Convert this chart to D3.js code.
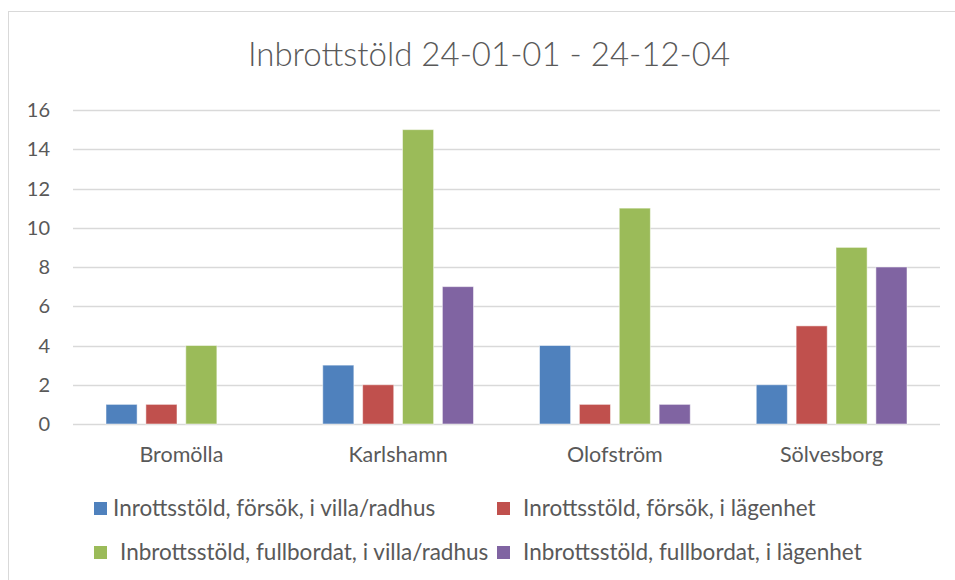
<!DOCTYPE html>
<html>
<head>
<meta charset="utf-8">
<script src="https://cdn.jsdelivr.net/npm/d3@7"></script>
<style>
  body { margin: 0; background: #fff; }
  text { fill: #595959; font-family: Lato, "Liberation Sans", sans-serif; }
</style>
</head>
<body>
<svg id="chart" width="955" height="580"></svg>
<script>
// data
const kommuner = ['Bromölla', 'Karlshamn', 'Olofström', 'Sölvesborg'];
const serieNamn = [
  'Inrottsstöld, försök, i villa/radhus',
  'Inrottsstöld, försök, i lägenhet',
  'Inbrottsstöld, fullbordat, i villa/radhus',
  'Inbrottsstöld, fullbordat, i lägenhet'
];
const forsokVilla = [1, 3, 4, 2];
const forsokLgh = [1, 2, 1, 5];
const fullbVilla = [4, 15, 11, 9];
const fullbLgh = [0, 7, 1, 8];
const yTicks = [0, 2, 4, 6, 8, 10, 12, 14, 16];
const farger = ['#4F81BD', '#C0504D', '#9BBB59', '#8064A2'];

const serier = [forsokVilla, forsokLgh, fullbVilla, fullbLgh];

const svg = d3.select('#chart');

// chart frame
svg.append('rect')
  .attr('x', 8.5).attr('y', 11.5)
  .attr('width', 960).attr('height', 600)
  .attr('fill', 'none')
  .attr('stroke', '#d9d9d9');

// title
svg.append('text')
  .attr('x', 489).attr('y', 66)
  .attr('text-anchor', 'middle')
  .style('font-size', '33px')
  .style('font-weight', 300)
  .text('Inbrottstöld 24-01-01 - 24-12-04');

const x0 = d3.scaleBand().domain(kommuner).range([73, 940]);
const x1 = d3.scaleBand().domain(d3.range(4))
  .range([33, x0.bandwidth() - 33]).paddingInner(0.22);
const y = d3.scaleLinear().domain([0, 16]).range([424, 110]);

// grid
svg.append('g')
  .selectAll('line')
  .data(yTicks)
  .join('line')
  .attr('x1', 73).attr('x2', 940)
  .attr('y1', d => Math.round(y(d)) + 0.5)
  .attr('y2', d => Math.round(y(d)) + 0.5)
  .attr('stroke', '#d9d9d9')
  .attr('stroke-width', 1.5);

// y labels
svg.append('g')
  .selectAll('text')
  .data(yTicks)
  .join('text')
  .attr('x', 50)
  .attr('y', d => y(d) + 7)
  .attr('text-anchor', 'end')
  .style('font-size', '20px')
  .text(d => d);

// bars
const grupper = svg.append('g')
  .selectAll('g')
  .data(kommuner)
  .join('g')
  .attr('transform', d => `translate(${x0(d)},0)`);

grupper.selectAll('rect')
  .data((d, i) => serier.map((s, j) => ({ j, v: s[i] })))
  .join('rect')
  .attr('x', d => x1(d.j))
  .attr('width', x1.bandwidth())
  .attr('y', d => y(d.v))
  .attr('height', d => y(0) - y(d.v))
  .attr('fill', d => farger[d.j])
  .attr('stroke', d => d.v > 0 ? '#fff' : 'none')
  .attr('stroke-opacity', 0.5)
  .attr('stroke-width', 1);

// category labels
svg.append('g')
  .selectAll('text')
  .data(kommuner)
  .join('text')
  .attr('x', d => x0(d) + x0.bandwidth() / 2)
  .attr('y', 462)
  .attr('text-anchor', 'middle')
  .style('font-size', '21.5px')
  .text(d => d);

// legend
const legPos = [
  { sx: 94, tx: 113, y: 502 },
  { sx: 497, tx: 523, y: 502 },
  { sx: 94, tx: 120, y: 546 },
  { sx: 497, tx: 523, y: 546 }
];
const leg = svg.append('g')
  .selectAll('g')
  .data(serieNamn)
  .join('g');

leg.append('rect')
  .attr('x', (d, i) => legPos[i].sx)
  .attr('y', (d, i) => legPos[i].y)
  .attr('width', 13).attr('height', 13)
  .attr('fill', (d, i) => farger[i]);

leg.append('text')
  .attr('x', (d, i) => legPos[i].tx)
  .attr('y', (d, i) => legPos[i].y + 14)
  .style('font-size', '22.5px')
  .text(d => d);
</script>
</body>
</html>
